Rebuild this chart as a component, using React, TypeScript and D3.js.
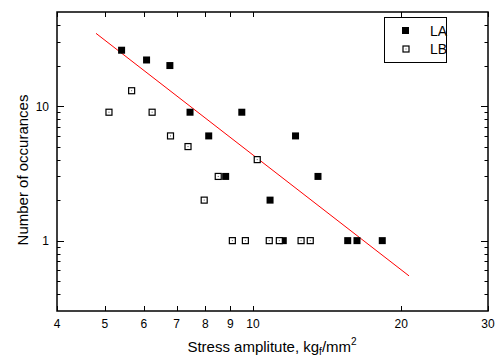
import React, { useEffect, useRef } from 'react';
import * as d3 from 'd3';

// LA series (filled squares)
const laStress = [5.41, 6.08, 6.78, 7.45, 8.13, 8.8, 9.49, 10.83, 11.52, 12.2, 13.55, 15.57, 16.26, 18.3];
const laCount = [26, 22, 20, 9, 6, 3, 9, 2, 1, 6, 3, 1, 1, 1];

// LB series (open squares)
const lbStress = [5.1, 5.67, 6.24, 6.8, 7.38, 7.96, 8.5, 9.08, 9.65, 10.2, 10.79, 11.31, 12.52, 13.07];
const lbCount = [9, 13, 9, 6, 5, 2, 3, 1, 1, 4, 1, 1, 1, 1];

// fitted power law line, end points
const fitStress = [4.8, 20.74];
const fitCount = [34.7, 0.547];

const xTicks = [4, 5, 6, 7, 8, 9, 10, 20, 30];
const yMajor = [1, 10];
const yMinor = [0.4, 0.5, 0.6, 0.7, 0.8, 0.9, 2, 3, 4, 5, 6, 7, 8, 9, 20, 30, 40];

const FONT = '"Liberation Sans", Arial, sans-serif';

const App = () => {
  const ref = useRef<SVGSVGElement>(null);

  useEffect(() => {
    const svg = d3.select(ref.current);
    svg.selectAll('*').remove();

    const left = 57, top = 12, right = 488, bottom = 311;

    const x = d3.scaleLog().domain([4, 30]).range([left, right]);
    const y = d3.scaleLog().domain([0.3, 50]).range([bottom, top]);

    // fit line
    const line = d3.line<number>()
      .x((d, i) => x(fitStress[i]))
      .y(d => y(d));
    svg.append('path')
      .attr('d', line(fitCount))
      .attr('fill', 'none')
      .attr('stroke', '#ff0000')
      .attr('stroke-width', 1);

    // ticks, all pointing inward
    const g = svg.append('g').attr('stroke', '#000').attr('stroke-width', 1);
    xTicks.forEach(t => {
      const px = Math.round(x(t)) + 0.5;
      g.append('line').attr('x1', px).attr('x2', px).attr('y1', bottom).attr('y2', bottom - 5);
      g.append('line').attr('x1', px).attr('x2', px).attr('y1', top).attr('y2', top + 5);
    });
    const yTick = (t: number, len: number) => {
      const py = Math.round(y(t)) + 0.5;
      g.append('line').attr('x1', left).attr('x2', left + len).attr('y1', py).attr('y2', py);
      g.append('line').attr('x1', right).attr('x2', right - len).attr('y1', py).attr('y2', py);
    };
    yMajor.forEach(t => yTick(t, 7));
    yMinor.forEach(t => yTick(t, 3.5));

    // frame
    svg.append('rect')
      .attr('x', left).attr('y', top)
      .attr('width', right - left).attr('height', bottom - top)
      .attr('fill', 'none').attr('stroke', '#000').attr('stroke-width', 1.5);

    // tick labels
    svg.selectAll('.xl').data(xTicks).enter().append('text')
      .attr('x', d => x(d)).attr('y', 328)
      .attr('text-anchor', 'middle')
      .attr('font-family', FONT).attr('font-size', 12)
      .text(d => d);
    svg.selectAll('.yl').data(yMajor).enter().append('text')
      .attr('x', 49).attr('y', d => y(d) + 4.5)
      .attr('text-anchor', 'end')
      .attr('font-family', FONT).attr('font-size', 12)
      .text(d => d);

    // markers
    svg.selectAll('.la').data(laCount).enter().append('rect')
      .attr('x', (d, i) => x(laStress[i]) - 3.5)
      .attr('y', d => y(d) - 3.5)
      .attr('width', 7).attr('height', 7)
      .attr('fill', '#000');
    const lb = svg.selectAll('.lb').data(lbCount).enter().append('g')
      .attr('transform', (d, i) => `translate(${x(lbStress[i])},${y(d)})`);
    lb.append('rect')
      .attr('x', -3).attr('y', -3).attr('width', 6).attr('height', 6)
      .attr('fill', '#fff').attr('stroke', '#000').attr('stroke-width', 1.2);
    lb.append('rect')
      .attr('x', -0.5).attr('y', -0.5).attr('width', 1).attr('height', 1)
      .attr('fill', '#555');

    // legend
    svg.append('rect')
      .attr('x', 384.5).attr('y', 17.5).attr('width', 62).attr('height', 45)
      .attr('fill', '#fff').attr('stroke', '#000').attr('stroke-width', 1);
    svg.append('rect')
      .attr('x', 402).attr('y', 27).attr('width', 7).attr('height', 7).attr('fill', '#000');
    svg.append('rect')
      .attr('x', 403).attr('y', 46).attr('width', 6).attr('height', 6)
      .attr('fill', '#fff').attr('stroke', '#000').attr('stroke-width', 1.2);
    svg.append('rect')
      .attr('x', 405.5).attr('y', 48.5).attr('width', 1).attr('height', 1).attr('fill', '#555');
    [['LA', 36], ['LB', 54]].forEach(([t, yy]) => {
      svg.append('text')
        .attr('x', 430).attr('y', yy as number)
        .attr('font-family', FONT).attr('font-size', 14)
        .text(t as string);
    });

    // axis titles
    const xt = svg.append('text')
      .attr('x', 272).attr('y', 352)
      .attr('text-anchor', 'middle')
      .attr('font-family', FONT).attr('font-size', 15);
    xt.append('tspan').text('Stress amplitute, kg');
    xt.append('tspan').attr('font-size', 10).attr('dy', 3).text('f');
    xt.append('tspan').attr('dy', -3).text('/mm');
    xt.append('tspan').attr('font-size', 10).attr('dy', -7).text('2');

    svg.append('text')
      .attr('transform', 'translate(28,170) rotate(-90)')
      .attr('text-anchor', 'middle')
      .attr('font-family', FONT).attr('font-size', 15)
      .text('Number of occurances');
  }, []);

  return (
    <svg
      ref={ref}
      width={498}
      height={358}
      style={{ position: 'absolute', left: 0, top: 0, background: '#fff' }}
    />
  );
};

export default App;
